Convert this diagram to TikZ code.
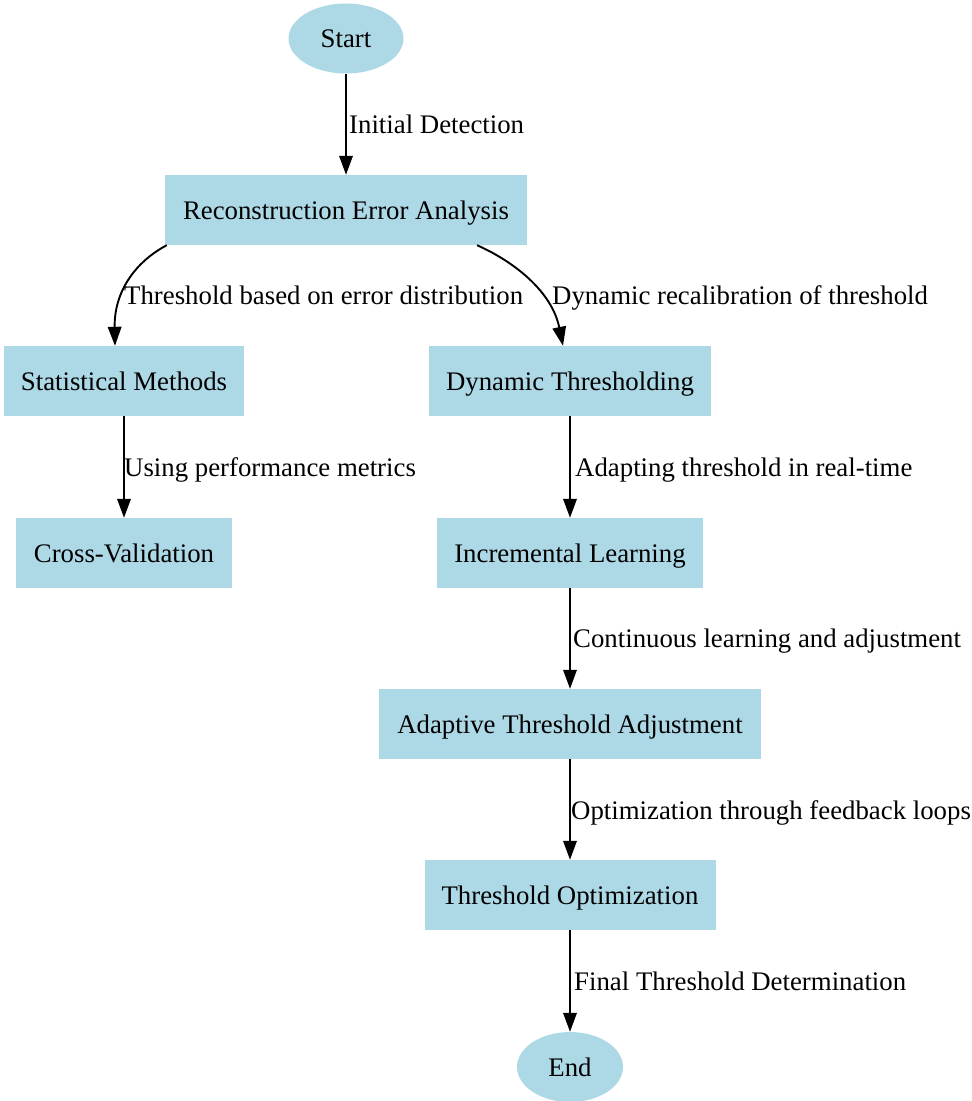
\documentclass[tikz,border=0pt]{standalone}
\usepackage{fontspec}
\setmainfont{Liberation Serif}
\usetikzlibrary{arrows.meta,shapes.geometric}
\definecolor{nodeblue}{HTML}{ADD8E6}
\begin{document}
\begin{tikzpicture}[x=1pt,y=-1pt,
  every node/.style={font=\fontsize{26.8}{32}\selectfont,text height=18.3pt,text depth=0pt},
  procbox/.style={draw=none,fill=nodeblue,rectangle,inner sep=0pt,minimum height=70pt},
  termnode/.style={draw=none,fill=nodeblue,ellipse,inner sep=0pt,minimum height=70pt},
  arr/.style={line width=1.9pt,-{Triangle[length=19pt,width=13.5pt]}},
  elabel/.style={anchor=west,inner sep=0pt}]
\useasboundingbox (0,0) rectangle (972,1101);
\node[termnode,minimum width=115pt] (start) at (346,38.5) {Start};
\node[procbox,minimum width=362pt] (rea) at (346,210) {Reconstruction Error Analysis};
\node[procbox,minimum width=240pt] (stat) at (124,381) {Statistical Methods};
\node[procbox,minimum width=282pt] (dyn) at (570,381) {Dynamic Thresholding};
\node[procbox,minimum width=216pt] (cv) at (124,553) {Cross-Validation};
\node[procbox,minimum width=266pt] (inc) at (570,553) {Incremental Learning};
\node[procbox,minimum width=382pt] (ata) at (570,724) {Adaptive Threshold Adjustment};
\node[procbox,minimum width=291pt] (opt) at (570,895) {Threshold Optimization};
\node[termnode,minimum width=106pt] (end) at (570,1067) {End};

\draw[arr] (start) -- (rea);
\draw[arr] ([xshift=2pt]rea.south west) .. controls (135,262) and (114,292) .. ([xshift=-9pt]stat.north);
\draw[arr] ([xshift=131pt]rea.south) .. controls (515,262) and (552,292) .. ([xshift=-7pt]dyn.north);
\draw[arr] (stat) -- (cv);
\draw[arr] (dyn) -- (inc);
\draw[arr] (inc) -- (ata);
\draw[arr] (ata) -- (opt);
\draw[arr] (opt) -- (end);

\node[elabel] (l1) at (349,124) {Initial Detection};
\node[elabel] (l2) at (124,295) {Threshold based on error distribution};
\node[elabel] (l3) at (552,295) {Dynamic recalibration of threshold};
\node[elabel] (l4) at (124,467) {Using performance metrics};
\node[elabel] (l5) at (575,467) {Adapting threshold in real-time};
\node[elabel] (l6) at (573,638) {Continuous learning and adjustment};
\node[elabel] (l7) at (571,810) {Optimization through feedback loops};
\node[elabel] (l8) at (574,981) {Final Threshold Determination};
\end{tikzpicture}
\end{document}
